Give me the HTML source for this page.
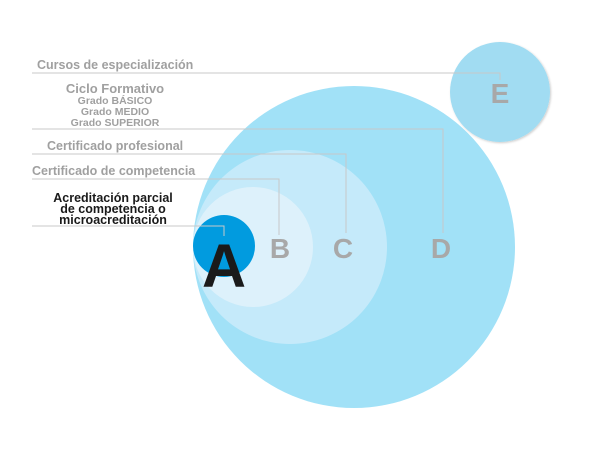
<!DOCTYPE html>
<html><head><meta charset="utf-8"><style>body{margin:0;background:#fff}</style></head><body>
<svg width="600" height="453" viewBox="0 0 600 453" xmlns="http://www.w3.org/2000/svg" font-family="Liberation Sans, sans-serif" font-weight="bold">
<defs><filter id="sh" x="-20%" y="-20%" width="140%" height="140%"><feDropShadow dx="1" dy="1" stdDeviation="1" flood-color="#000" flood-opacity="0.2"/></filter></defs>
<circle cx="354" cy="247" r="161" fill="#a1e1f7"/>
<circle cx="290" cy="247" r="97" fill="#c5eafa"/>
<circle cx="253" cy="247" r="60" fill="#ddf1fb"/>
<circle cx="224" cy="246" r="31" fill="#019bdf"/>
<circle cx="500" cy="92" r="50" fill="#a1dcf2" filter="url(#sh)"/>
<g stroke="#c8c8c8" stroke-width="1" fill="none">
<polyline points="32,73 500,73 500,80"/>
<polyline points="32,129 443,129 443,233"/>
<polyline points="32,154 346,154 346,233"/>
<polyline points="32,179 279,179 279,235"/>
<polyline points="32,226 224,226 224,236"/>
</g>
<g fill="#a8a8a8" font-size="28" text-anchor="middle">
<text x="280" y="258">B</text><text x="343" y="258">C</text><text x="441" y="258">D</text><text x="500" y="103">E</text>
</g>
<text x="224" y="287" font-size="61" fill="#1a1a1a" text-anchor="middle">A</text>
<g fill="#a0a0a0">
<text x="37" y="69" font-size="12.5">Cursos de especialización</text>
<text x="115" y="93" font-size="13" text-anchor="middle">Ciclo Formativo</text>
<text x="115" y="104" font-size="10.5" text-anchor="middle">Grado BÁSICO</text>
<text x="115" y="115" font-size="10.5" text-anchor="middle">Grado MEDIO</text>
<text x="115" y="126" font-size="10.5" text-anchor="middle">Grado SUPERIOR</text>
<text x="47" y="150" font-size="12.5">Certificado profesional</text>
<text x="32" y="175" font-size="12.5">Certificado de competencia</text>
</g>
<g fill="#1a1a1a" font-size="12.5" text-anchor="middle">
<text x="113" y="202">Acreditación parcial</text>
<text x="113" y="213">de competencia o</text>
<text x="113" y="224">microacreditación</text>
</g>
</svg>
</body></html>
